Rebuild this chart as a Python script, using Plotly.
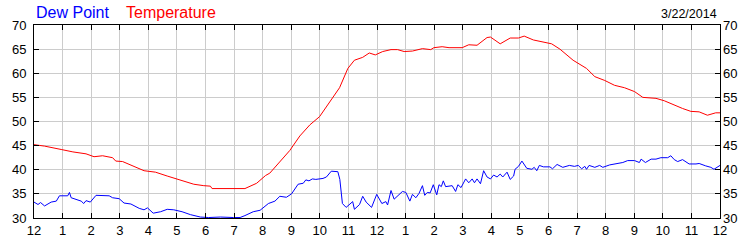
import plotly.graph_objects as go

# ---- data (hours since midnight, values in °F) ----
temp_hours = [0, 0.37, 0.95, 1.36, 1.82, 2.1, 2.4, 2.75, 2.86, 3.1, 3.85, 4.25, 4.66, 5.12, 5.59,
              5.94, 6.17, 6.23, 7.38, 7.79, 8.1, 8.25, 8.6, 8.95, 9.3, 9.65, 9.99, 10.34, 10.69,
              10.98, 11.21, 11.5, 11.73, 11.94, 12.2, 12.49, 12.72, 12.95, 13.24, 13.59, 13.88,
              13.99, 14.28, 14.52, 14.98, 15.21, 15.5, 15.85, 15.97, 16.31, 16.66, 16.95, 17.15,
              17.47, 17.82, 18.11, 18.4, 18.86, 19.33, 19.62, 19.97, 20.31, 20.66, 21.01, 21.3,
              21.76, 22.05, 22.34, 22.69, 22.98, 23.27, 23.56, 23.85, 24]
temp_values = [45.2, 44.9, 44.2, 43.7, 43.3, 42.7, 42.9, 42.5, 41.8, 41.7, 39.8, 39.5, 38.7, 37.9, 37.0,
               36.7, 36.6, 36.1, 36.1, 37.2, 38.8, 39.3, 41.7, 44.0, 47.0, 49.3, 51.0, 54.0, 57.0,
               61.0, 62.7, 63.3, 64.2, 63.8, 64.5, 64.9, 64.9, 64.5, 64.6, 65.1, 64.9,
               65.3, 65.5, 65.3, 65.3, 65.9, 65.8, 67.4, 67.5, 66.1, 67.3, 67.3, 67.7,
               66.9, 66.4, 66.1, 65.0, 62.7, 61.0, 59.3, 58.5, 57.5, 57.0, 56.2, 55.0,
               54.8, 54.3, 53.5, 52.7, 52.1, 52.0, 51.3, 51.8, 51.8]

dew_hours = [0, 0.14, 0.23, 0.37, 0.6, 0.78, 0.89, 1.18, 1.24, 1.3, 1.65, 1.74, 1.82, 1.97, 2.17,
             2.63, 2.75, 2.98, 3.15, 3.39, 3.68, 3.85, 3.97, 4.17, 4.43, 4.66, 4.89, 5.18, 5.47,
             5.82, 6.11, 6.52, 6.98, 7.21, 7.38, 7.67, 7.91, 8.2, 8.43, 8.6, 8.83, 9.01, 9.24,
             9.42, 9.51, 9.62, 9.74, 9.86, 10.11, 10.23, 10.4, 10.63, 10.7, 10.79, 10.92, 11.15,
             11.21, 11.39, 11.5, 11.62, 11.81, 11.99, 12.17, 12.31, 12.37, 12.49, 12.6, 12.78,
             12.89, 13.01, 13.15, 13.24, 13.36, 13.47, 13.59, 13.67, 13.76, 13.86, 13.97, 14.09,
             14.17, 14.25, 14.32, 14.4, 14.63, 14.75, 14.83, 14.94, 15.1, 15.21, 15.33, 15.41,
             15.5, 15.62, 15.73, 15.85, 15.97, 16.08, 16.2, 16.31, 16.4, 16.55, 16.66, 16.78,
             16.83, 16.95, 17.07, 17.24, 17.42, 17.5, 17.59, 17.68, 17.82, 18.05, 18.14, 18.3,
             18.5, 18.73, 18.91, 19.04, 19.16, 19.27, 19.33, 19.42, 19.62, 19.79, 19.9, 20.14,
             20.31, 20.43, 20.6, 20.77, 21.01, 21.18, 21.24, 21.39, 21.59, 21.76, 21.93, 22.17,
             22.28, 22.4, 22.52, 22.69, 22.92, 23.16, 23.27, 23.5, 23.68, 23.79, 24]
dew_values = [33.3, 32.8, 33.2, 32.5, 33.3, 33.5, 34.6, 34.6, 35.3, 34.2, 33.5, 33.0, 33.6, 33.3, 34.7,
              34.6, 34.2, 34.0, 33.1, 32.9, 32.0, 31.7, 32.1, 31.0, 31.3, 31.8, 31.7, 31.3, 30.7,
              30.2, 30.1, 30.2, 30.1, 30.1, 30.5, 31.3, 31.6, 33.0, 33.5, 34.5, 34.3, 35.0, 37.0,
              37.2, 37.9, 37.7, 38.1, 38.0, 38.2, 38.5, 39.7, 39.6, 38.0, 33.0, 32.2, 33.4,
              31.8, 32.8, 34.5, 33.3, 32.2, 34.9, 33.0, 33.4, 32.7, 35.7, 33.9, 35.0,
              35.5, 35.3, 33.5, 34.9, 34.2, 35.1, 36.7, 34.7, 35.3, 35.2, 36.9, 34.8,
              36.9, 36.5, 37.7, 36.5, 36.7, 35.5, 36.9, 36.3, 38.1, 37.3, 38.1, 37.3,
              38.1, 37.1, 39.8, 38.5, 38.1, 38.9, 38.5, 39.1, 38.5, 39.5, 38.0, 38.7,
              40.1, 40.7, 41.8, 40.3, 40.1, 40.5, 39.8, 40.9, 40.6, 40.6, 40.2, 41.1,
              40.5, 40.9, 40.7, 40.9, 40.2, 40.7, 40.1, 40.9, 40.5, 40.9, 40.5, 41.0,
              41.2, 41.3, 41.5, 41.9, 41.9, 41.5, 42.2, 41.5, 42.2, 42.2, 42.5, 42.5,
              42.9, 42.1, 41.7, 42.1, 41.2, 41.2, 41.3, 40.8, 40.5, 40.1, 40.9]

hour_ticks = list(range(25))
hour_labels = ["12", "1", "2", "3", "4", "5", "6", "7", "8", "9", "10", "11",
               "12", "1", "2", "3", "4", "5", "6", "7", "8", "9", "10", "11", "12"]
y_ticks = [30, 35, 40, 45, 50, 55, 60, 65, 70]
date_text = "3/22/2014"
series_names = ["Dew Point", "Temperature"]
series_colors = ["#0000FF", "#FF0000"]

FONT = "Liberation Sans, Arial, sans-serif"

fig = go.Figure()
fig.add_trace(go.Scatter(x=dew_hours, y=dew_values, mode="lines", name=series_names[0],
                         line=dict(color=series_colors[0], width=1), hoverinfo="skip"))
fig.add_trace(go.Scatter(x=temp_hours, y=temp_values, mode="lines", name=series_names[1],
                         line=dict(color=series_colors[1], width=1), hoverinfo="skip", yaxis="y2"))

fig.update_layout(
    width=750, height=250,
    margin=dict(l=31, r=30, t=25, b=25, pad=0),
    paper_bgcolor="white", plot_bgcolor="white",
    showlegend=False,
    font=dict(family=FONT, size=13, color="black"),
    xaxis=dict(range=[0, 24], tickvals=hour_ticks, ticktext=hour_labels,
               showgrid=True, gridcolor="#cccccc", gridwidth=1,
               showline=True, linecolor="black", linewidth=1, mirror="ticks",
               ticks="inside", ticklen=5, tickcolor="black", zeroline=False,
               tickfont=dict(family=FONT, size=13, color="black")),
    yaxis=dict(range=[30, 70], tickvals=y_ticks,
               showgrid=True, gridcolor="#cccccc", gridwidth=1,
               showline=True, linecolor="black", linewidth=1, mirror="ticks",
               ticks="inside", ticklen=5, tickcolor="black", zeroline=False,
               ticklabelstandoff=4,
               tickfont=dict(family=FONT, size=13, color="black")),
    yaxis2=dict(range=[30, 70], tickvals=y_ticks, overlaying="y", side="right",
                showgrid=False, showline=False, ticks="", zeroline=False,
                ticklabelstandoff=2,
                tickfont=dict(family=FONT, size=13, color="black")),
    annotations=[
        dict(text=series_names[0], xref="paper", yref="paper", x=0, y=1, xshift=0,
             xanchor="left", yanchor="bottom", yshift=2, showarrow=False,
             font=dict(family=FONT, size=16, color=series_colors[0])),
        dict(text=series_names[1], xref="paper", yref="paper", x=0, y=1, xshift=90,
             xanchor="left", yanchor="bottom", yshift=2, showarrow=False,
             font=dict(family=FONT, size=16, color=series_colors[1])),
        dict(text=date_text, xref="paper", yref="paper", x=1, y=1, xshift=-1,
             xanchor="right", yanchor="bottom", yshift=2, showarrow=False,
             font=dict(family=FONT, size=12.5, color="black")),
    ],
)

fig.write_html("out.html")
